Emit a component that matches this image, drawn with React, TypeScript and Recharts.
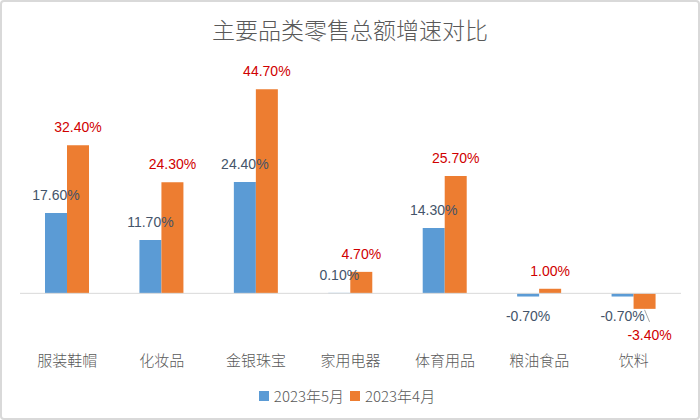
import { Bar, BarChart, LabelList, ReferenceLine, XAxis, YAxis } from "recharts";

const categories = ["服装鞋帽", "化妆品", "金银珠宝", "家用电器", "体育用品", "粮油食品", "饮料"];
const may2023 = [17.6, 11.7, 24.4, 0.1, 14.3, -0.7, -0.7];
const apr2023 = [32.4, 24.3, 44.7, 4.7, 25.7, 1.0, -3.4];
const seriesNames = ["2023年5月", "2023年4月"];

const BLUE = "#5b9bd5";
const ORANGE = "#ed7d31";
const CJK = '"Noto Sans CJK SC", "Noto Sans", sans-serif';
const NUM = '"Liberation Sans", Arial, sans-serif';

const data = categories.map((name, i) => ({ name, may: may2023[i], apr: apr2023[i] }));

// Excel had one label dragged off its bar (饮料, April) with a leader line.
const nudged: Record<string, { dx: number; dy: number }> = { "apr-6": { dx: 5, dy: 7 } };

function makeLabel(key: string, color: string) {
  return (props: any) => {
    const { x, y, width, height, value, index } = props;
    const top = Math.min(y, y + height);
    const bottom = Math.max(y, y + height);
    const cx = x + width / 2;
    const neg = value < 0;
    const n = nudged[`${key}-${index}`];
    const lx = cx + (n ? n.dx : 0);
    const ly = (neg ? bottom + 19 : top - 18) + (n ? n.dy : 0);
    return (
      <g key={`${key}-${index}`}>
        {n && <line x1={cx} y1={bottom + 1} x2={cx + 5} y2={bottom + 13} stroke="#a6a6a6" strokeWidth={1} />}
        <text x={lx} y={ly} dy="0.36em" textAnchor="middle" fontSize={14} fontFamily={NUM} fill={color}>
          {`${value.toFixed(2)}%`}
        </text>
      </g>
    );
  };
}

function LegendItem({ color, label }: { color: string; label: string }) {
  return (
    <span style={{ display: "inline-flex", alignItems: "center", marginRight: 6 }}>
      <span style={{ width: 10, height: 10, background: color, marginRight: 5, display: "inline-block" }} />
      <span>{label}</span>
    </span>
  );
}

export default function App() {
  return (
    <div
      style={{
        position: "absolute",
        left: 0,
        top: 0,
        width: 700,
        height: 420,
        background: "#fff",
        overflow: "hidden",
      }}
    >
      <div
        style={{
          position: "absolute",
          top: 12,
          left: 0,
          width: 700,
          textAlign: "center",
          fontFamily: CJK,
          fontSize: 23,
          fontWeight: 300,
          color: "#595959",
        }}
      >
        主要品类零售总额增速对比
      </div>
      <BarChart
        width={700}
        height={420}
        data={data}
        margin={{ top: 65, right: 19, left: 20, bottom: 51 }}
        barGap={0}
        barSize={22}
      >
        <YAxis hide domain={[-10, 50]} />
        <XAxis
          dataKey="name"
          height={30}
          axisLine={false}
          tickLine={false}
          tickMargin={10}
          interval={0}
          tick={{ fontSize: 15, fill: "#595959", fontFamily: CJK, fontWeight: 300 }}
        />
        <ReferenceLine y={0} stroke="#d9d9d9" strokeWidth={1} />
        <Bar dataKey="may" name={seriesNames[0]} fill={BLUE} isAnimationActive={false}>
          <LabelList dataKey="may" content={makeLabel("may", "#44546a")} />
        </Bar>
        <Bar dataKey="apr" name={seriesNames[1]} fill={ORANGE} isAnimationActive={false}>
          <LabelList dataKey="apr" content={makeLabel("apr", "#d00000")} />
        </Bar>
      </BarChart>
      <div
        style={{
          position: "absolute",
          top: 385,
          left: 0,
          width: 700,
          display: "flex",
          justifyContent: "center",
          fontFamily: CJK,
          fontSize: 15,
          fontWeight: 300,
          color: "#595959",
        }}
      >
        <LegendItem color={BLUE} label={seriesNames[0]} />
        <LegendItem color={ORANGE} label={seriesNames[1]} />
      </div>
      <div
        style={{
          position: "absolute",
          inset: 0,
          border: "2px solid #d9d9d9",
          borderRadius: 4,
          pointerEvents: "none",
        }}
      />
    </div>
  );
}
